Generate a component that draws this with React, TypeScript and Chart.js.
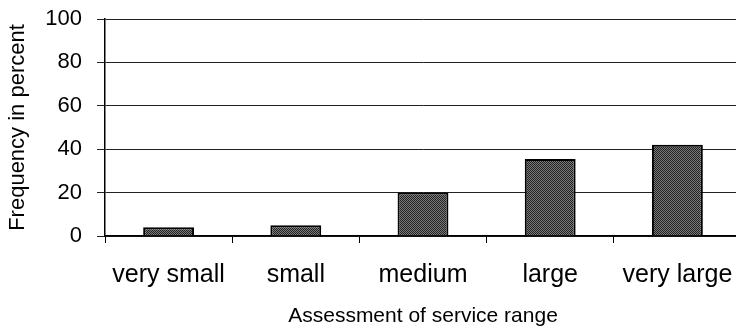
import React, { useEffect, useRef } from "react";
import { Chart, registerables } from "chart.js";

Chart.register(...registerables);

// Survey result: how respondents rated the service range
const categories = ["very small", "small", "medium", "large", "very large"];
const frequencies = [4, 5, 20, 35.5, 42];
const yTicks = [0, 20, 40, 60, 80, 100];
const yTitle = "Frequency in percent";
const xTitle = "Assessment of service range";

const FONT = "'Liberation Sans', Arial, Helvetica, sans-serif";

// Dithered dark-grey fill for the bars
function makeStipple(): CanvasPattern | string {
  const c = document.createElement("canvas");
  c.width = 2;
  c.height = 2;
  const g = c.getContext("2d");
  if (!g) return "#4d4d4d";
  g.fillStyle = "#7a7a7a";
  g.fillRect(0, 0, 2, 2);
  g.fillStyle = "#222222";
  g.fillRect(0, 0, 1, 1);
  g.fillRect(1, 1, 1, 1);
  const p = g.createPattern(c, "repeat");
  return p || "#4d4d4d";
}

// Fixed axis box sizes, with no extra room reserved for overhanging labels
function fixBox(size: { width?: number; height?: number }) {
  return (s: any) => {
    if (size.width !== undefined) s.width = size.width;
    if (size.height !== undefined) s.height = size.height;
    s.paddingTop = 0;
    s.paddingBottom = 0;
    s.paddingLeft = 0;
    s.paddingRight = 0;
  };
}

export default function App() {
  const ref = useRef<HTMLCanvasElement | null>(null);

  useEffect(() => {
    if (!ref.current) return;
    const chart = new Chart(ref.current, {
      type: "bar",
      data: {
        labels: categories,
        datasets: [
          {
            data: frequencies,
            backgroundColor: makeStipple() as any,
            borderColor: "#000",
            borderWidth: 2,
            borderSkipped: "bottom",
            barPercentage: 0.4,
            categoryPercentage: 1,
          },
        ],
      },
      options: {
        responsive: false,
        animation: false,
        layout: { padding: { left: 0, right: 4, top: 19, bottom: 0 } },
        plugins: { legend: { display: false }, tooltip: { enabled: false } },
        scales: {
          x: {
            offset: true,
            afterFit: fixBox({ height: 93 }),
            grid: {
              offset: true,
              drawOnChartArea: false,
              drawTicks: true,
              tickLength: 7,
              color: "#000",
              lineWidth: 1,
            },
            border: { display: true, color: "#000", width: 1.5 },
            ticks: {
              color: "#000",
              padding: 17,
              font: { family: FONT, size: 25 },
              maxRotation: 0,
              autoSkip: false,
            },
            title: {
              display: true,
              text: xTitle,
              color: "#000",
              font: { family: FONT, size: 21 },
              padding: { top: 0, bottom: 0 },
            },
          },
          y: {
            min: yTicks[0],
            max: yTicks[yTicks.length - 1],
            afterFit: fixBox({ width: 105 }),
            grid: {
              color: "#222",
              lineWidth: 1,
              drawTicks: true,
              tickLength: 8,
            },
            border: { display: true, color: "#000", width: 1.5 },
            ticks: {
              stepSize: yTicks[1] - yTicks[0],
              color: "#000",
              padding: 15,
              font: { family: FONT, size: 22 },
            },
            title: {
              display: true,
              text: yTitle,
              color: "#000",
              font: { family: FONT, size: 22 },
              padding: { top: 5, bottom: 0 },
            },
          },
        },
      },
    });
    return () => chart.destroy();
  }, []);

  return (
    <div
      style={{
        position: "absolute",
        left: 0,
        top: 0,
        width: 736,
        height: 329,
        overflow: "hidden",
        background: "#fff",
      }}
    >
      <canvas ref={ref} width={745} height={329} style={{ display: "block" }} />
    </div>
  );
}
